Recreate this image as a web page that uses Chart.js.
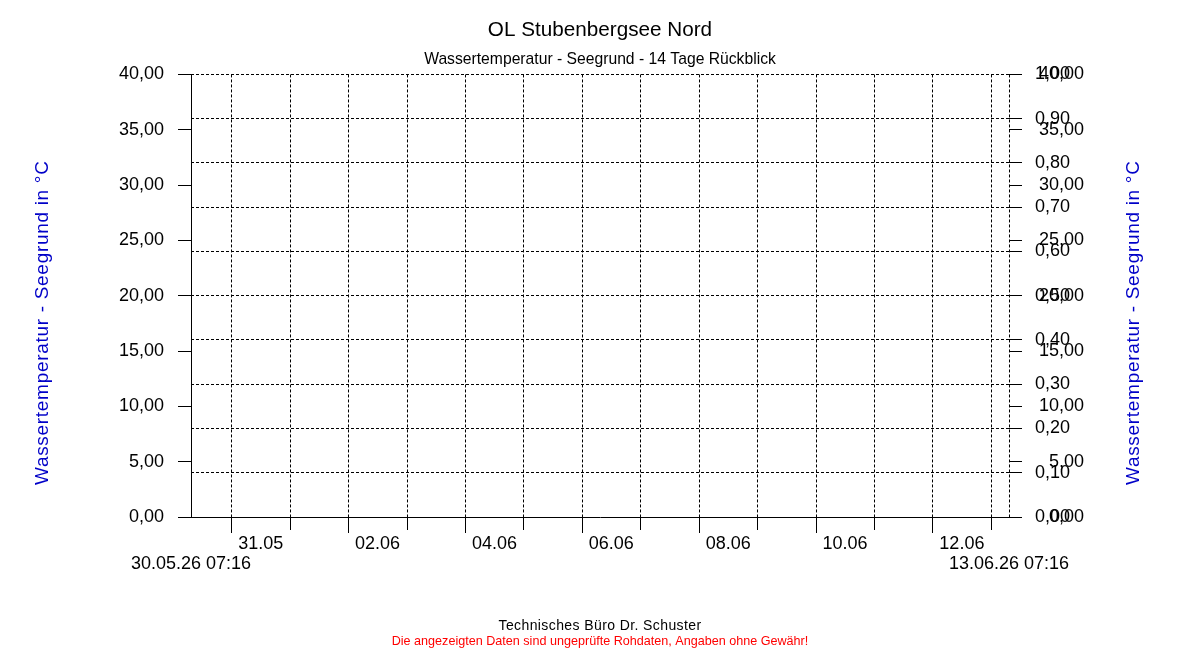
<!DOCTYPE html>
<html>
<head>
<meta charset="utf-8">
<script src="https://cdn.jsdelivr.net/npm/chart.js@4/dist/chart.umd.min.js"></script>
<style>
  html, body { margin: 0; padding: 0; background: #fff; overflow: hidden; }
  canvas { display: block; }
</style>
</head>
<body>
<canvas id="c" width="1200" height="650"></canvas>
<script>
// ---------- data ----------
const chartTitle = 'OL Stubenbergsee Nord';
const chartSubtitle = 'Wassertemperatur - Seegrund - 14 Tage Rückblick';
const axisTitle = 'Wassertemperatur - Seegrund in °C';
const footerLine = 'Technisches Büro Dr. Schuster';
const disclaimerLine = 'Die angezeigten Daten sind ungeprüfte Rohdaten, Angaben ohne Gewähr!';

// x values are days since 30.05.26 00:00
const rangeDays = [0.30278, 14.30278];              // 30.05.26 07:16 .. 13.06.26 07:16
const rangeLabels = ['30.05.26 07:16', '13.06.26 07:16'];
const dayTicks = [1, 2, 3, 4, 5, 6, 7, 8, 9, 10, 11, 12, 13, 14];
const dayLabels = ['31.05', '', '02.06', '', '04.06', '', '06.06', '', '08.06', '', '10.06', '', '12.06', ''];

const leftTicks = [0, 5, 10, 15, 20, 25, 30, 35, 40];
const rightTicksFraction = [0, 0.1, 0.2, 0.3, 0.4, 0.5, 0.6, 0.7, 0.8, 0.9, 1.0];
const rightTicksTemp = [0, 5, 10, 15, 20, 25, 30, 35, 40];
const tempRange = [0, 40];
const fractionRange = [0, 1];

// measured series (no values shown in the 14-day window)
const temperatureTimes = [];
const temperatureValues = [];

// ---------- chart ----------
const FAMILY = "'Liberation Sans', Arial, sans-serif";
const fmt = v => Number(v).toFixed(2).replace('.', ',');
const BLACK = '#000000';
const CLEAR = 'rgba(0,0,0,0)';
const TICK_FONT = { family: FAMILY, size: 18 };

const extraText = {
  id: 'extraText',
  afterDraw(chart) {
    const ctx = chart.ctx;
    const area = chart.chartArea;
    ctx.save();
    ctx.textAlign = 'center';
    ctx.textBaseline = 'middle';
    // axis titles (both read bottom-to-top)
    ctx.fillStyle = '#0000C8';
    ctx.font = '19px ' + FAMILY;
    ctx.letterSpacing = '0.7px';
    const midY = (area.top + area.bottom) / 2 + 27;
    [area.left - 148, area.right + 125].forEach(x => {
      ctx.save();
      ctx.translate(x, midY);
      ctx.rotate(-Math.PI / 2);
      ctx.fillText(axisTitle, 0, 0);
      ctx.restore();
    });
    // footer
    const cx = chart.width / 2;
    ctx.fillStyle = '#000000';
    ctx.font = '14px ' + FAMILY;
    ctx.letterSpacing = '0.4px';
    ctx.fillText(footerLine, cx, 626.5);
    ctx.fillStyle = '#FF0000';
    ctx.font = '12.6px ' + FAMILY;
    ctx.letterSpacing = '0px';
    ctx.fillText(disclaimerLine, cx, 641.5);
    ctx.restore();
  }
};

new Chart(document.getElementById('c'), {
  type: 'line',
  data: {
    datasets: [{
      label: axisTitle,
      data: temperatureTimes.map((t, i) => ({ x: t, y: temperatureValues[i] })),
      borderColor: '#0000C8',
      borderWidth: 1,
      pointRadius: 0,
      xAxisID: 'x',
      yAxisID: 'y'
    }]
  },
  options: {
    responsive: false,
    animation: false,
    events: [],
    layout: { padding: { left: 0, right: 0, top: 0, bottom: 67 } },
    plugins: {
      legend: { display: false },
      tooltip: { enabled: false },
      title: {
        display: true, text: chartTitle, color: BLACK,
        font: { family: FAMILY, size: 20.7, weight: 'normal', lineHeight: 1.2 },
        padding: { top: 17.6, bottom: 0 }
      },
      subtitle: {
        display: true, text: chartSubtitle, color: BLACK,
        font: { family: FAMILY, size: 15.7, weight: 'normal', lineHeight: 1.2 },
        padding: { top: 8, bottom: 5.16 }
      }
    },
    scales: {
      x: {
        type: 'linear', axis: 'x', position: 'bottom', weight: 0,
        min: rangeDays[0], max: rangeDays[1],
        afterBuildTicks: s => {
          s.ticks = dayTicks.map((d, i) => ({ value: d, text: dayLabels[i], kind: 'day' }))
            .concat([{ value: rangeDays[1], text: '', kind: 'end' }]);
        },
        afterFit: s => { s.height = 36; },
        ticks: {
          autoSkip: false, maxRotation: 0, minRotation: 0, padding: 0, labelOffset: 29,
          color: BLACK, font: TICK_FONT,
          callback: (v, i, ticks) => ticks[i].text
        },
        grid: {
          display: true, drawOnChartArea: true, drawTicks: true, tickLength: 16,
          color: BLACK, lineWidth: 1, tickWidth: 1,
          tickColor: c => (c.tick && c.tick.kind === 'end') ? CLEAR : BLACK,
          tickBorderDash: c => (c.tick && c.tick.kind === 'day' && !c.tick.text) ? [12, 40] : []
        },
        border: { display: true, color: BLACK, width: 1, dash: [3, 2] }
      },
      xEdge: {
        type: 'linear', axis: 'x', position: 'bottom', weight: 1,
        min: rangeDays[0], max: rangeDays[1],
        afterBuildTicks: s => {
          s.ticks = rangeDays.map((d, i) => ({ value: d, text: rangeLabels[i] }));
        },
        afterFit: s => { s.height = 30; },
        ticks: {
          autoSkip: false, maxRotation: 0, minRotation: 0, padding: 0,
          color: BLACK, font: TICK_FONT,
          callback: (v, i, ticks) => ticks[i].text
        },
        grid: { display: false, drawTicks: false, drawOnChartArea: false },
        border: { display: false }
      },
      y: {
        type: 'linear', position: 'left', min: tempRange[0], max: tempRange[1],
        afterBuildTicks: s => { s.ticks = leftTicks.map(v => ({ value: v })); },
        afterFit: s => { s.width = 191; },
        ticks: {
          autoSkip: false, padding: 14, color: BLACK, font: TICK_FONT,
          callback: v => fmt(v)
        },
        grid: { display: true, drawOnChartArea: false, drawTicks: true, tickLength: 13, color: BLACK, tickColor: BLACK },
        border: { display: true, color: BLACK, width: 1 }
      },
      // right axis: 0..1 scale (left-aligned labels) + tick marks of the 0..40 scale
      y2: {
        type: 'linear', position: 'right', weight: 0, min: fractionRange[0], max: fractionRange[1],
        afterBuildTicks: s => {
          const k = (fractionRange[1] - fractionRange[0]) / (tempRange[1] - tempRange[0]);
          s.ticks = rightTicksFraction.map(v => ({ value: v, text: fmt(v), set: 'fraction' }))
            .concat(rightTicksTemp.map(v => ({ value: (v - tempRange[0]) * k + fractionRange[0], text: '', set: 'temp' })));
        },
        afterFit: s => { s.width = 75; },
        ticks: {
          autoSkip: false, padding: 13, color: BLACK, font: TICK_FONT,
          callback: (v, i, ticks) => ticks[i].text
        },
        grid: {
          display: true, drawOnChartArea: true, drawTicks: true, tickLength: 13,
          lineWidth: 1, tickColor: BLACK,
          color: c => (c.tick && c.tick.set === 'temp') ? CLEAR : BLACK
        },
        border: { display: false, dash: [3, 2] }
      },
      // right axis: 0..40 scale labels (right-aligned against the 0..1 labels' box)
      y3: {
        type: 'linear', axis: 'y', position: 'right', weight: 1, min: tempRange[0], max: tempRange[1],
        afterBuildTicks: s => { s.ticks = rightTicksTemp.map(v => ({ value: v })); },
        afterFit: s => { s.width = 116; },
        ticks: {
          autoSkip: false, mirror: true, padding: 0, color: BLACK, font: TICK_FONT,
          callback: v => fmt(v)
        },
        grid: { display: false, drawTicks: false, drawOnChartArea: false },
        border: { display: false }
      }
    }
  },
  plugins: [extraText]
});
</script>
</body>
</html>
